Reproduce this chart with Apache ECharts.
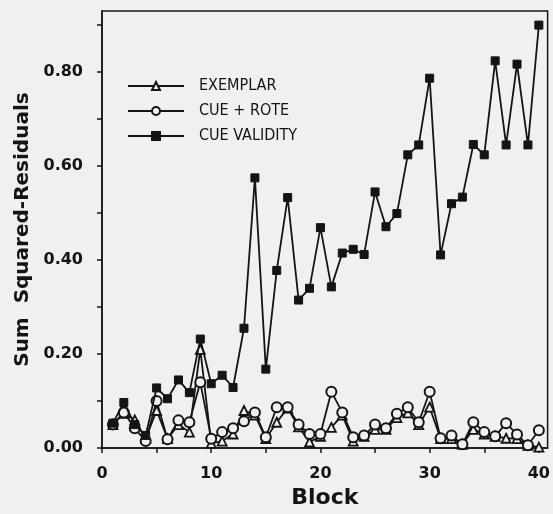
<!DOCTYPE html>
<html>
<head>
<meta charset="utf-8">
<script src="https://cdn.jsdelivr.net/npm/echarts@6/dist/echarts.min.js"></script>
<style>
  html, body { margin: 0; padding: 0; background: #f0f0ee; }
  #chart { width: 553px; height: 514px; }
</style>
</head>
<body>
<div id="chart"></div>
<script>
var blocks = [1, 2, 3, 4, 5, 6, 7, 8, 9, 10, 11, 12, 13, 14, 15, 16, 17, 18, 19, 20,
              21, 22, 23, 24, 25, 26, 27, 28, 29, 30, 31, 32, 33, 34, 35, 36, 37, 38, 39, 40];

var exemplar = [0.05, 0.074, 0.06, 0.02, 0.08, 0.02, 0.05, 0.034, 0.21, 0.01,
                0.015, 0.03, 0.08, 0.07, 0.02, 0.055, 0.085, 0.045, 0.013, 0.025,
                0.044, 0.07, 0.015, 0.025, 0.04, 0.04, 0.065, 0.075, 0.05, 0.087,
                0.02, 0.02, 0.008, 0.04, 0.03, 0.025, 0.021, 0.02, 0.006, 0.002];

var cueRote = [0.05, 0.076, 0.042, 0.015, 0.10, 0.019, 0.059, 0.055, 0.14, 0.02,
               0.034, 0.042, 0.057, 0.076, 0.023, 0.087, 0.087, 0.05, 0.03, 0.03,
               0.12, 0.076, 0.023, 0.027, 0.05, 0.042, 0.073, 0.087, 0.055, 0.12,
               0.021, 0.027, 0.008, 0.055, 0.034, 0.025, 0.053, 0.029, 0.006, 0.038];

var cueValidity = [0.053, 0.097, 0.05, 0.027, 0.128, 0.105, 0.145, 0.118, 0.232, 0.137,
                   0.155, 0.129, 0.255, 0.575, 0.168, 0.378, 0.533, 0.315, 0.34, 0.469,
                   0.343, 0.415, 0.423, 0.412, 0.545, 0.471, 0.499, 0.624, 0.645, 0.787,
                   0.411, 0.52, 0.534, 0.646, 0.624, 0.824, 0.645, 0.817, 0.645, 0.90];

var seriesNames = ['EXEMPLAR', 'CUE + ROTE', 'CUE VALIDITY'];

var ink = '#141414';
var paper = '#f0f0ee';
var labelFont = 'DejaVu Sans';

function pairs(values) {
    var out = [];
    for (var i = 0; i < blocks.length; i++) {
        out.push([blocks[i], values[i]]);
    }
    return out;
}

var chart = echarts.init(document.getElementById('chart'));

var option = {
    backgroundColor: paper,
    animation: false,
    grid: {
        left: 102,
        right: 3,
        top: 11,
        bottom: 62,
        show: true,
        borderColor: ink,
        borderWidth: 1.5,
        backgroundColor: 'transparent'
    },
    legend: {
        orient: 'vertical',
        left: 122,
        top: 73,
        itemWidth: 56,
        itemHeight: 10,
        itemGap: 9,
        data: seriesNames,
        textStyle: {
            fontFamily: "'Liberation Sans Narrow', 'DejaVu Sans Condensed', sans-serif",
            fontSize: 16,
            color: ink,
            padding: [0, 0, 0, 10]
        }
    },
    xAxis: {
        type: 'value',
        min: 0,
        max: 40.8,
        interval: 5,
        name: 'Block',
        nameLocation: 'middle',
        nameGap: 38,
        nameTextStyle: {
            fontFamily: labelFont,
            fontWeight: 'bold',
            fontSize: 22,
            color: ink
        },
        axisLine: { lineStyle: { color: ink, width: 1.5 } },
        axisTick: { length: 5, lineStyle: { color: ink, width: 1.5 } },
        splitLine: { show: false },
        axisLabel: {
            margin: 18,
            fontFamily: labelFont,
            fontWeight: 'bold',
            fontSize: 16,
            color: ink,
            showMaxLabel: false,
            formatter: function (v) {
                return Math.abs(v - Math.round(v / 10) * 10) < 1e-6 ? String(Math.round(v)) : '';
            }
        }
    },
    yAxis: {
        type: 'value',
        min: 0,
        max: 0.93,
        interval: 0.1,
        name: 'Sum  Squared-Residuals',
        nameLocation: 'middle',
        nameGap: 68,
        nameTextStyle: {
            fontFamily: labelFont,
            fontWeight: 'bold',
            fontSize: 20,
            color: ink
        },
        axisLine: { show: true, lineStyle: { color: ink, width: 1.5 } },
        axisTick: { show: true, length: 5, lineStyle: { color: ink, width: 1.5 } },
        splitLine: { show: false },
        axisLabel: {
            margin: 19,
            fontFamily: labelFont,
            fontWeight: 'bold',
            fontSize: 16,
            color: ink,
            showMaxLabel: false,
            formatter: function (v) {
                return Math.abs(v / 0.2 - Math.round(v / 0.2)) < 1e-6 ? v.toFixed(2) : '';
            }
        }
    },
    series: [
        {
            name: seriesNames[0],
            type: 'line',
            data: pairs(exemplar),
            symbol: 'triangle',
            symbolSize: 9,
            lineStyle: { color: ink, width: 1.8 },
            itemStyle: { color: paper, borderColor: ink, borderWidth: 1.8 },
            z: 2
        },
        {
            name: seriesNames[1],
            type: 'line',
            data: pairs(cueRote),
            symbol: 'circle',
            symbolSize: 10,
            lineStyle: { color: ink, width: 1.8 },
            itemStyle: { color: paper, borderColor: ink, borderWidth: 2 },
            z: 3
        },
        {
            name: seriesNames[2],
            type: 'line',
            data: pairs(cueValidity),
            symbol: 'rect',
            symbolSize: 8,
            lineStyle: { color: ink, width: 1.8 },
            itemStyle: { color: ink, borderColor: ink, borderWidth: 1 },
            z: 4
        }
    ]
};

chart.setOption(option);
</script>
</body>
</html>
